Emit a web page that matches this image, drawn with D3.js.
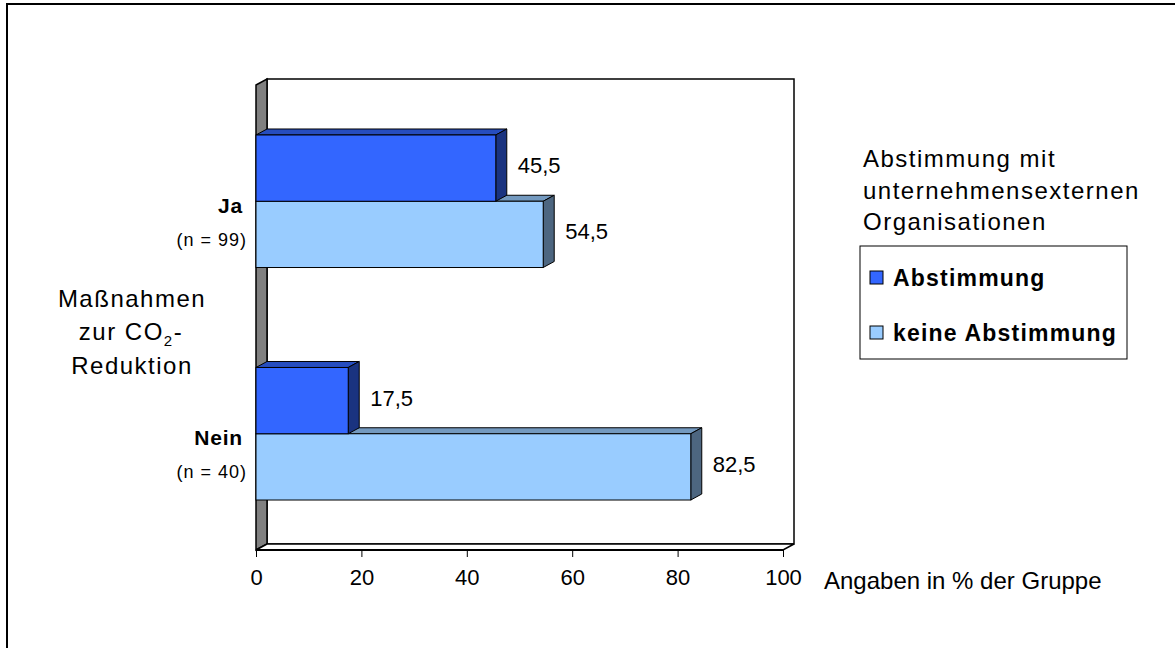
<!DOCTYPE html>
<html>
<head>
<meta charset="utf-8">
<script src="https://cdn.jsdelivr.net/npm/d3@7"></script>
<style>
  html, body { margin: 0; padding: 0; background: #fff; }
  svg { display: block; }
  text { font-family: "Liberation Sans", Arial, sans-serif; fill: #000; }
</style>
</head>
<body>
<svg id="chart" width="1175" height="648"></svg>
<script>
// Survey groups (y axis) and the two answer series (percent of group)
const categories = ["Ja", "Nein"];
const sampleSizes = ["(n = 99)", "(n = 40)"];
const seriesNames = ["Abstimmung", "keine Abstimmung"];
const abstimmung = [45.5, 17.5];
const keineAbstimmung = [54.5, 82.5];
const xTicks = [0, 20, 40, 60, 80, 100];
const seriesColors = ["#3366FF", "#99CCFF"];

const rows = categories.map((c, i) => ({
  category: c,
  n: sampleSizes[i],
  values: [abstimmung[i], keineAbstimmung[i]]
}));

const svg = d3.select("#chart");

// 3D projection offsets of the Excel-style chart
const DX = 11, DY = 6;

const x = d3.scaleLinear().domain([0, 100]).range([256, 783]);
const y = d3.scaleBand().domain(categories).range([85, 550])
  .paddingInner(0.43).paddingOuter(0.215);
const ySub = d3.scaleBand().domain(seriesNames).range([0, y.bandwidth()]);

const de = d3.formatLocale({ decimal: ",", thousands: ".", grouping: [3], currency: ["", " €"] });
const fmt = de.format(".1f");

// outer chart frame
svg.append("rect")
  .attr("x", 7).attr("y", 4).attr("width", 1200).attr("height", 700)
  .attr("fill", "none").attr("stroke", "#000").attr("stroke-width", 2);

const x0 = x(0), x1 = x(100);
const yTop = y.range()[0], yBot = y.range()[1];

// back wall
svg.append("rect")
  .attr("x", x0 + DX).attr("y", yTop - DY)
  .attr("width", x1 - x0).attr("height", yBot - yTop)
  .attr("fill", "#fff").attr("stroke", "#000").attr("stroke-width", 1.5);

// left side wall
svg.append("polygon")
  .attr("points", [[x0, yTop], [x0 + DX, yTop - DY], [x0 + DX, yBot - DY], [x0, yBot]].join(" "))
  .attr("fill", "#808080").attr("stroke", "#000").attr("stroke-width", 1.5);

// floor
svg.append("polygon")
  .attr("points", [[x0, yBot], [x0 + DX, yBot - DY], [x1 + DX, yBot - DY], [x1, yBot]].join(" "))
  .attr("fill", "#fff").attr("stroke", "#000").attr("stroke-width", 1.5);
svg.append("line")
  .attr("x1", x0).attr("x2", x1).attr("y1", yBot).attr("y2", yBot)
  .attr("stroke", "#000").attr("stroke-width", 2);

// x axis ticks and labels
const xAxis = d3.axisBottom(x).tickValues(xTicks).tickSize(7).tickPadding(12)
  .tickFormat(d3.format("d"));
const gx = svg.append("g").attr("transform", `translate(0,${yBot})`).call(xAxis);
gx.select(".domain").remove();
gx.selectAll(".tick line").attr("stroke", "#000").attr("stroke-width", 1);
gx.selectAll(".tick text")
  .attr("font-size", 22).attr("font-family", "Liberation Sans, Arial, sans-serif")
  .attr("fill", "#000").attr("dy", null).attr("y", 35);

svg.append("text")
  .attr("x", 824).attr("y", 589)
  .attr("font-size", 24)
  .text("Angaben in % der Gruppe");

function shade(hex, k) {
  const c = d3.rgb(hex);
  return d3.rgb(c.r * k, c.g * k, c.b * k).formatHex();
}

// bars: light series first so the darker bar above overlaps its top face
rows.forEach(row => {
  const order = [1, 0];
  order.forEach(si => {
    const v = row.values[si];
    const yy = y(row.category) + ySub(seriesNames[si]);
    const h = ySub.bandwidth();
    const xe = x(v);
    const g = svg.append("g");
    const col = seriesColors[si];
    g.append("polygon")
      .attr("points", [[x0, yy], [x0 + DX, yy - DY], [xe + DX, yy - DY], [xe, yy]].join(" "))
      .attr("fill", shade(col, 0.75)).attr("stroke", "#000").attr("stroke-width", 1);
    g.append("polygon")
      .attr("points", [[xe, yy], [xe + DX, yy - DY], [xe + DX, yy + h - DY], [xe, yy + h]].join(" "))
      .attr("fill", shade(col, 0.5)).attr("stroke", "#000").attr("stroke-width", 1);
    g.append("rect")
      .attr("x", x0).attr("y", yy).attr("width", xe - x0).attr("height", h)
      .attr("fill", col).attr("stroke", "#000").attr("stroke-width", 1);
  });
});

// value labels
rows.forEach(row => {
  row.values.forEach((v, si) => {
    const yy = y(row.category) + ySub(seriesNames[si]);
    const cy = yy + ySub.bandwidth() / 2 - DY / 2;
    svg.append("text")
      .attr("x", x(v) + DX + 11)
      .attr("y", cy + 0.36 * 22)
      .attr("font-size", 22)
      .text(fmt(v));
  });
});

// category labels
rows.forEach(row => {
  const cy = y(row.category) + y.bandwidth() / 2;
  svg.append("text")
    .attr("x", 243).attr("y", cy + 4 + 0.36 * 21)
    .attr("text-anchor", "end").attr("font-size", 21).attr("font-weight", "bold")
    .attr("letter-spacing", 0.8)
    .text(row.category);
  svg.append("text")
    .attr("x", 247).attr("y", cy + 38 + 0.36 * 18)
    .attr("text-anchor", "end").attr("font-size", 18)
    .attr("letter-spacing", 1)
    .text(row.n);
});

// y axis title
const yt = svg.append("text").attr("text-anchor", "middle").attr("font-size", 24).attr("letter-spacing", 1.5);
yt.append("tspan").attr("x", 132).attr("y", 307).text("Maßnahmen");
const l2 = yt.append("tspan").attr("x", 131).attr("y", 340);
l2.append("tspan").text("zur CO");
l2.append("tspan").attr("font-size", 15).attr("dy", 6).text("2");
l2.append("tspan").attr("dy", -6).text("-");
yt.append("tspan").attr("x", 132).attr("y", 374).text("Reduktion");

// legend
const legendTitle = ["Abstimmung mit", "unternehmensexternen", "Organisationen"];
const lt = svg.append("text").attr("font-size", 24).attr("letter-spacing", 1.5);
legendTitle.forEach((t, i) => {
  lt.append("tspan").attr("x", 863).attr("y", 167 + i * 31.5).text(t);
});

svg.append("rect")
  .attr("x", 860).attr("y", 246).attr("width", 267).attr("height", 113)
  .attr("fill", "#fff").attr("stroke", "#000").attr("stroke-width", 1);

seriesNames.forEach((name, i) => {
  const cy = 277.5 + i * 55;
  svg.append("rect")
    .attr("x", 870).attr("y", cy - 6.5).attr("width", 13).attr("height", 13)
    .attr("fill", seriesColors[i]).attr("stroke", "#000").attr("stroke-width", 1);
  svg.append("text")
    .attr("x", 893).attr("y", cy + 0.36 * 23)
    .attr("font-size", 23).attr("font-weight", "bold").attr("letter-spacing", 1.2)
    .text(name);
});
</script>
</body>
</html>
